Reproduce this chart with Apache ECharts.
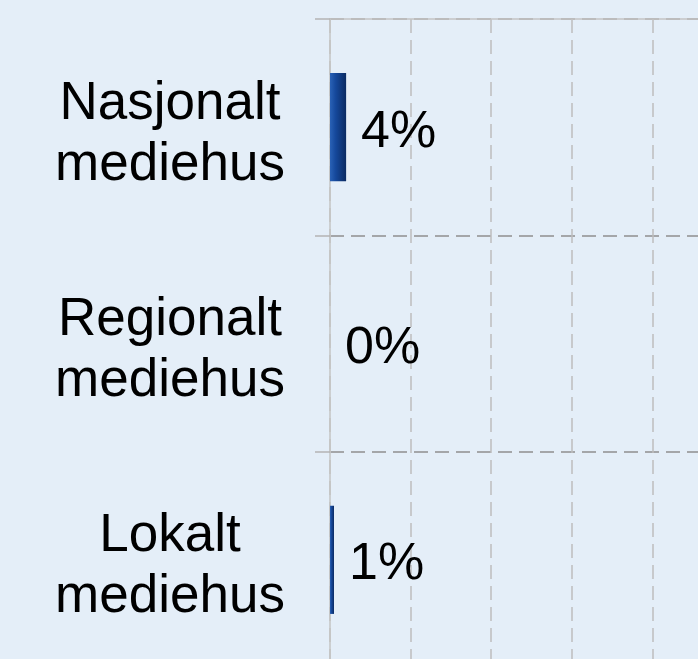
<!DOCTYPE html>
<html>
<head>
<meta charset="utf-8">
<script src="https://cdn.jsdelivr.net/npm/echarts@6/dist/echarts.min.js"></script>
<style>
html,body{margin:0;padding:0;background:#e4eef8;overflow:hidden;width:698px;height:659px;}
#chart{width:733px;height:668px;}
</style>
</head>
<body>
<div id="chart"></div>
<script>
const categories = ['Nasjonalt\nmediehus', 'Regionalt\nmediehus', 'Lokalt\nmediehus'];
const values = [4, 0, 1];
const xTicks = [0, 20, 40, 60, 80, 100];

const chart = echarts.init(document.getElementById('chart'));
const font = '"Liberation Sans", Arial, sans-serif';
chart.setOption({
  backgroundColor: '#e4eef8',
  animation: false,
  grid: { left: 330, top: 19, right: 0, bottom: 0, containLabel: false },
  xAxis: {
    type: 'value',
    position: 'top',
    min: xTicks[0],
    max: xTicks[xTicks.length - 1],
    interval: xTicks[1] - xTicks[0],
    axisLine: { show: true, lineStyle: { color: '#c4c4c4', width: 1.5 } },
    axisTick: { show: false },
    axisLabel: { show: false },
    splitLine: { show: true, lineStyle: { color: '#bdbdbd', width: 1.5, type: [14, 7] } }
  },
  yAxis: {
    type: 'category',
    inverse: true,
    data: categories,
    axisLine: { show: true, lineStyle: { color: '#c4c4c4', width: 1.5 } },
    axisTick: { show: true, length: 15, lineStyle: { color: '#b4b4b4', width: 1.5 } },
    axisLabel: {
      color: '#000', fontFamily: font, fontSize: 53, lineHeight: 60,
      align: 'center', margin: 160,
      formatter: function (v) {
        const parts = v.split('\n');
        return '{t|' + parts[0] + '}\n{b|' + parts[1] + '}';
      },
      rich: {
        t: { fontSize: 53, lineHeight: 60, fontFamily: font, color: '#000', padding: [14, 0, 0, 0], align: 'center' },
        b: { fontSize: 53, lineHeight: 60, fontFamily: font, color: '#000', padding: [16, 0, 0, 0], align: 'center' }
      }
    },
    splitLine: { show: true, lineStyle: { color: '#8f8f8f', width: 1.5, type: [14, 7] } }
  },
  series: [{
    type: 'bar',
    data: values,
    barWidth: '50%',
    itemStyle: {
      color: new echarts.graphic.LinearGradient(0, 0, 1, 0, [
        { offset: 0, color: '#2a62b6' },
        { offset: 0.35, color: '#15489b' },
        { offset: 1, color: '#0a2a62' }
      ]),
      borderWidth: 0
    },
    label: {
      show: true, position: 'right', distance: 15, offset: [0, 5],
      formatter: '{c}%', fontSize: 52, color: '#000', fontFamily: font
    }
  }]
});
</script>
</body>
</html>
